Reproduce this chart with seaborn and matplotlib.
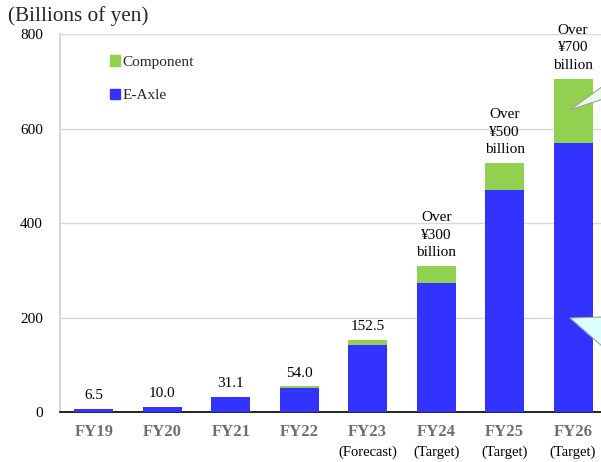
import pandas as pd
import matplotlib
matplotlib.use("Agg")
import matplotlib.pyplot as plt
from matplotlib.patches import Polygon, Patch
import seaborn as sns

# Data (billions of yen)
years = ["FY19", "FY20", "FY21", "FY22", "FY23", "FY24", "FY25", "FY26"]
sublabels = ["", "", "", "", "(Forecast)", "(Target)", "(Target)", "(Target)"]
eaxle = [6.5, 10.0, 31.1, 51.0, 142.0, 273.0, 470.0, 569.0]
component = [0.0, 0.0, 0.0, 3.0, 10.5, 36.0, 57.0, 136.0]
total_labels = ["6.5", "10.0", "31.1", "54.0", "152.5",
                "Over\n¥300\nbillion", "Over\n¥500\nbillion", "Over\n¥700\nbillion"]

BLUE = "#3333FF"
GREEN = "#92D050"

sns.set_theme(style="white")
plt.rcParams["font.family"] = ["Liberation Serif", "DejaVu Serif"]

df = pd.DataFrame({"year": years, "eaxle": eaxle, "component": component})
df["total"] = df["eaxle"] + df["component"]

fig = plt.figure(figsize=(6.01, 4.62), dpi=100)
ax = fig.add_axes([0.0994, 0.1082, 0.911, 0.8182])

# stacked bars: total in green, e-axle in blue on top of it
sns.barplot(data=df, x="year", y="total", color=GREEN, width=0.57,
            saturation=1, linewidth=0, ax=ax, zorder=3)
sns.barplot(data=df, x="year", y="eaxle", color=BLUE, width=0.57,
            saturation=1, linewidth=0, ax=ax, zorder=4)

ax.set_xlim(-0.5, 7.5)
ax.set_ylim(0, 800)
ax.set_yticks([0, 200, 400, 600, 800])
ax.tick_params(axis="y", labelsize=11, length=0, pad=12, labelcolor="black")
ax.yaxis.grid(True, color="#d9d9d9", linewidth=1)
ax.set_axisbelow(True)
ax.set_xlabel("")
ax.set_ylabel("")

for s in ["top", "right"]:
    ax.spines[s].set_visible(False)
ax.spines["left"].set_color("#d0d0d0")
ax.spines["bottom"].set_color("black")
ax.spines["bottom"].set_linewidth(1.2)

# x tick labels: bold grey year plus small sub-label
ax.set_xticks(range(len(years)))
ax.set_xticklabels([])
ax.tick_params(axis="x", length=0)
for i, (yr, sub) in enumerate(zip(years, sublabels)):
    ax.annotate(yr, xy=(i, 0), xytext=(0, -14.5), textcoords="offset points",
                ha="center", va="center", fontsize=12, fontweight="bold",
                color="#6e6e6e")
    if sub:
        ax.annotate(sub, xy=(i, 0), xytext=(0, -29), textcoords="offset points",
                    ha="center", va="center", fontsize=10.5, color="black")

# value labels above bars
for i, (tot, lab) in enumerate(zip(df["total"], total_labels)):
    ax.annotate(lab, xy=(i, tot), xytext=(0, 5), textcoords="offset points",
                ha="center", va="bottom", fontsize=11, color="black",
                linespacing=1.45)

# legend
handles = [Patch(color=GREEN, label="Component"), Patch(color=BLUE, label="E-Axle")]
ax.legend(handles=handles, loc="upper left", bbox_to_anchor=(0.16, 0.91),
          bbox_transform=fig.transFigure, frameon=False, fontsize=11,
          handlelength=0.65, handleheight=0.65, handletextpad=0.15,
          labelspacing=1.3)

fig.text(0.013, 0.965, "(Billions of yen)", fontsize=15.3, ha="left", va="center")

# cut-off callout shapes at the right edge
W, H = 601, 462
def fpt(x, y):
    return (x / W, 1 - y / H)
fig.patches.append(Polygon([fpt(570, 110), fpt(603, 86), fpt(603, 99)],
                           closed=True, facecolor="#e8fbe8", edgecolor="#a0a0a0",
                           linewidth=0.8, transform=fig.transFigure, zorder=5))
fig.patches.append(Polygon([fpt(570, 318), fpt(603, 317), fpt(603, 347)],
                           closed=True, facecolor="#dcffff", edgecolor="#a0a0a0",
                           linewidth=0.8, transform=fig.transFigure, zorder=5))

fig.savefig("out.png", dpi=100)
